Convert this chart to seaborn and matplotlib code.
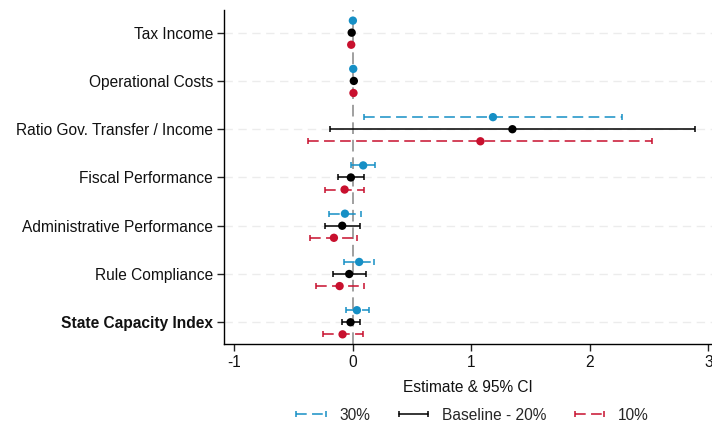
import numpy as np
import pandas as pd
import matplotlib
matplotlib.use("Agg")
import matplotlib.pyplot as plt
from matplotlib.lines import Line2D
import seaborn as sns

outcomes = ["Tax Income", "Operational Costs", "Ratio Gov. Transfer / Income",
            "Fiscal Performance", "Administrative Performance", "Rule Compliance",
            "State Capacity Index"]
series = ["30%", "Baseline - 20%", "10%"]

est_30 = [0.000, 0.003, 1.182, 0.087, -0.067, 0.053, 0.034]
lo_30 = [-0.004, -0.001, 0.095, -0.014, -0.202, -0.079, -0.062]
hi_30 = [0.004, 0.007, 2.270, 0.188, 0.065, 0.180, 0.135]

est_20 = [-0.010, 0.008, 1.346, -0.017, -0.090, -0.031, -0.020]
lo_20 = [-0.014, 0.004, -0.197, -0.126, -0.236, -0.169, -0.095]
hi_20 = [-0.006, 0.012, 2.890, 0.095, 0.059, 0.110, 0.056]

est_10 = [-0.014, 0.005, 1.076, -0.070, -0.160, -0.112, -0.087]
lo_10 = [-0.018, 0.001, -0.382, -0.233, -0.360, -0.315, -0.255]
hi_10 = [-0.010, 0.009, 2.525, 0.093, 0.039, 0.095, 0.082]

colors = {"30%": "#168fc5", "Baseline - 20%": "#000000", "10%": "#c8102e"}
offsets = {"30%": -0.25, "Baseline - 20%": 0.0, "10%": 0.25}
styles = {"30%": (0, (7, 3.5)), "Baseline - 20%": "-", "10%": (0, (7, 3.5))}

rows = []
for s, e, l, h in [("30%", est_30, lo_30, hi_30),
                   ("Baseline - 20%", est_20, lo_20, hi_20),
                   ("10%", est_10, lo_10, hi_10)]:
    for i, o in enumerate(outcomes):
        rows.append({"series": s, "outcome": o, "idx": i, "est": e[i], "lo": l[i], "hi": h[i]})
df = pd.DataFrame(rows)
df["y"] = df["idx"] + df["series"].map(offsets)

sns.set_theme(style="white")
plt.rcParams["font.family"] = ["Liberation Sans", "DejaVu Sans"]

fig = plt.figure(figsize=(7.12, 4.25), dpi=100)
ax = fig.add_axes([0.315, 0.1906, 0.685, 0.7859])

for i in range(len(outcomes)):
    ax.axhline(i, color="#ececec", lw=1.0, ls=(0, (6, 4)), zorder=0)
ax.axvline(0, color="#a0a0a0", lw=1.4, ls=(0, (6, 3)), zorder=1)

for s in series:
    d = df[df["series"] == s]
    eb = ax.errorbar(d["est"], d["y"], xerr=[d["est"] - d["lo"], d["hi"] - d["est"]],
                     fmt="none", ecolor=colors[s], elinewidth=1.1, capsize=2.4,
                     capthick=1.1, zorder=2)
    eb[2][0].set_linestyle(styles[s])

sns.scatterplot(data=df, x="est", y="y", hue="series", palette=colors,
                s=36, edgecolor="none", legend=False, ax=ax, zorder=3)

fs = 11.2
ax.set_xlim(-1.085, 3.03)
ax.set_ylim(6.45, -0.47)
ax.set_yticks(range(len(outcomes)))
ax.set_yticklabels(outcomes, fontsize=fs, color="#111111")
ax.get_yticklabels()[-1].set_fontweight("bold")
ax.set_xticks([-1, 0, 1, 2, 3])
ax.set_xticklabels(["-1", "0", "1", "2", "3"], fontsize=fs, color="#111111")
ax.set_xlabel("Estimate & 95% CI", fontsize=fs, color="#111111", labelpad=7)
ax.set_ylabel("")
ax.tick_params(axis="both", direction="out", length=5, width=1, color="#222222",
               left=True, bottom=True, pad=3)
for sp in ["top", "right"]:
    ax.spines[sp].set_visible(False)
for sp in ["left", "bottom"]:
    ax.spines[sp].set_color("#000000")
    ax.spines[sp].set_linewidth(1.0)

handles = [Line2D([], [], color=colors[s], ls=styles[s], lw=1.1, marker="|",
                  markersize=5, markeredgewidth=1.1) for s in series]
fig.legend(handles=handles, labels=series, loc="center", ncol=3, numpoints=2,
           bbox_to_anchor=(0.66, 0.0235), frameon=False, fontsize=fs,
           handlelength=2.5, columnspacing=1.55, handletextpad=0.55)

fig.savefig("out.png", dpi=100)
